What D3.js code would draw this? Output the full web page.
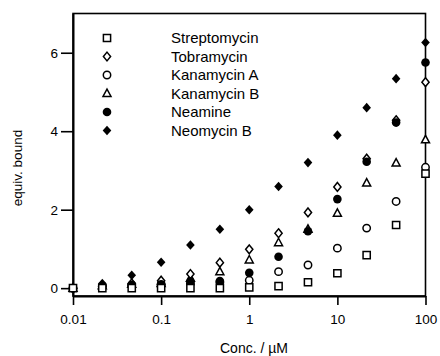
<!DOCTYPE html>
<html><head><meta charset="utf-8">
<script src="https://cdn.jsdelivr.net/npm/d3@7"></script>
<style>
html,body{margin:0;padding:0;background:#fff;}
svg{display:block;font-family:"Liberation Sans",Arial,Helvetica,sans-serif;}
</style></head>
<body>
<svg id="chart" width="440" height="356"></svg>
<script>
const conc = [0.01, 0.0215, 0.0464, 0.1, 0.215, 0.464, 1, 2.15, 4.64, 10, 21.5, 46.4, 100];
const seriesNames = ["Streptomycin", "Tobramycin", "Kanamycin A", "Kanamycin B", "Neamine", "Neomycin B"];
const seriesShapes = ["square", "diamondOpen", "circleOpen", "triangle", "circleFilled", "diamondFilled"];
const streptomycin = [0, 0, 0, 0, 0, 0, 0.02, 0.05, 0.15, 0.38, 0.84, 1.61, 2.92];
const tobramycin   = [0, 0.05, 0.12, 0.19, 0.36, 0.65, 0.99, 1.40, 1.93, 2.58, 3.30, 4.28, 5.25];
const kanamycinA   = [0, 0.05, 0.08, 0.10, 0.12, 0.15, 0.20, 0.42, 0.59, 1.02, 1.53, 2.21, 3.08];
const kanamycinB   = [0, 0.06, 0.10, 0.12, 0.25, 0.42, 0.72, 1.16, 1.50, 1.91, 2.68, 3.19, 3.78];
const neamine      = [0, 0.06, 0.08, 0.10, 0.17, 0.18, 0.39, 0.80, 1.45, 2.27, 3.22, 4.22, 5.75];
const neomycinB    = [0, 0.12, 0.33, 0.66, 1.10, 1.50, 2.00, 2.59, 3.20, 3.90, 4.60, 5.34, 6.26];
const seriesValues = [streptomycin, tobramycin, kanamycinA, kanamycinB, neamine, neomycinB];
const xTicks = [0.01, 0.1, 1, 10, 100];
const xTickLabels = ["0.01", "0.1", "1", "10", "100"];
const yTicks = [0, 2, 4, 6];

const svg = d3.select("#chart");
const L = 73, R = 425.5, T = 13.5, B = 296;
const x = d3.scaleLog().domain([0.01, 100]).range([L, R]);
const y = d3.scaleLinear().domain([-0.2, 7]).range([B, T]);

function shapePath(type) {
  switch (type) {
    case "square": return "M-3.6,-3.6H3.6V3.6H-3.6Z";
    case "diamondOpen": return "M0,-4.4L3.6,0L0,4.4L-3.6,0Z";
    case "diamondFilled": return "M0,-4.8L4.3,0L0,4.8L-4.3,0Z";
    case "triangle": return "M0,-4.4L4,3L-4,3Z";
    default: return null;
  }
}
function drawMarker(g, type) {
  if (type === "circleOpen") {
    g.append("circle").attr("r", 3.7).attr("fill", "#fff").attr("stroke", "#000").attr("stroke-width", 1.5);
  } else if (type === "circleFilled") {
    g.append("circle").attr("r", 4.3).attr("fill", "#000");
  } else if (type === "diamondFilled") {
    g.append("path").attr("d", shapePath(type)).attr("fill", "#000");
  } else {
    g.append("path").attr("d", shapePath(type)).attr("fill", "#fff").attr("stroke", "#000").attr("stroke-width", 1.5);
  }
}

// frame
svg.append("rect").attr("x", L).attr("y", T).attr("width", R - L).attr("height", B - T)
  .attr("fill", "none").attr("stroke", "#000").attr("stroke-width", 1.6);

// axes
const xAxis = d3.axisBottom(x).tickValues(xTicks).tickFormat((d, i) => xTickLabels[i]).tickSizeInner(9).tickSizeOuter(0).tickPadding(9);
const gx = svg.append("g").attr("transform", `translate(0,${B})`).call(xAxis);
gx.select(".domain").attr("stroke-width", 2);
gx.selectAll(".tick line").attr("stroke-width", 1.6);
gx.selectAll("text").attr("font-size", 13.5).attr("font-family", "Liberation Sans, Arial, sans-serif").attr("fill", "#000");

const yAxis = d3.axisLeft(y).tickValues(yTicks).tickFormat(d3.format("d")).tickSizeInner(12).tickSizeOuter(0).tickPadding(3);
const gy = svg.append("g").attr("transform", `translate(${L},0)`).call(yAxis);
gy.select(".domain").attr("stroke-width", 2);
gy.selectAll(".tick line").attr("stroke-width", 1.6);
gy.selectAll("text").attr("font-size", 13.5).attr("font-family", "Liberation Sans, Arial, sans-serif").attr("fill", "#000");

// axis titles
svg.append("text").attr("x", 254).attr("y", 353).attr("text-anchor", "middle")
  .attr("font-size", 14).text("Conc. / \u00b5M");
svg.append("text").attr("transform", "translate(22,168) rotate(-90)").attr("text-anchor", "middle")
  .attr("font-size", 13.5).text("equiv. bound");

// data points (streptomycin drawn last, as in the reference)
const order = [2, 3, 1, 4, 5, 0];
order.forEach(si => {
  const g = svg.append("g").attr("class", "series-" + si);
  conc.forEach((c, i) => {
    const m = g.append("g").attr("transform", `translate(${x(c)},${y(seriesValues[si][i])})`);
    drawMarker(m, seriesShapes[si]);
  });
});

// legend
const legY0 = 38, legDy = 18.5;
seriesNames.forEach((name, i) => {
  const m = svg.append("g").attr("transform", `translate(107,${legY0 + i * legDy})`);
  drawMarker(m, seriesShapes[i]);
  svg.append("text").attr("x", 171).attr("y", legY0 + i * legDy + 5).attr("font-size", 15).text(name);
});
</script>
</body></html>
